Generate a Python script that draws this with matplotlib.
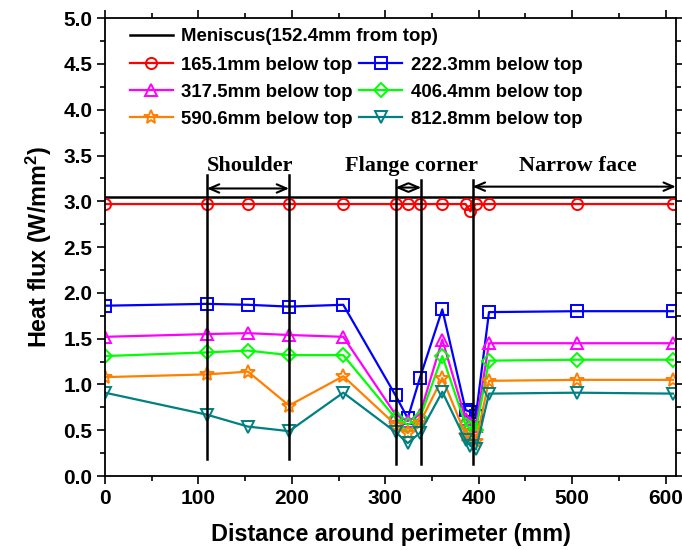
import matplotlib
matplotlib.use('Agg')
import matplotlib.pyplot as plt
from matplotlib.ticker import MultipleLocator, FormatStrFormatter

plt.rcParams['font.family'] = ['Liberation Sans', 'DejaVu Sans']
plt.rcParams['font.weight'] = 'bold'
plt.rcParams['mathtext.fontset'] = 'custom'
plt.rcParams['mathtext.rm'] = 'Liberation Sans:bold'
plt.rcParams['mathtext.default'] = 'rm'

# 数据
x = [0, 109, 153, 197, 255, 311, 324, 337, 361, 386, 391, 397, 411, 505, 608]
y_165 = [2.97, 2.97, 2.97, 2.97, 2.97, 2.97, 2.97, 2.97, 2.97, 2.97, 2.89, 2.97, 2.97, 2.97, 2.97]
y_222 = [1.86, 1.88, 1.87, 1.85, 1.87, 0.88, 0.63, 1.07, 1.82, 0.72, 0.70, 0.66, 1.79, 1.80, 1.80]
y_317 = [1.52, 1.55, 1.56, 1.54, 1.52, 0.67, 0.60, 0.67, 1.49, 0.62, 0.58, 0.55, 1.45, 1.45, 1.45]
y_406 = [1.31, 1.35, 1.37, 1.32, 1.32, 0.63, 0.56, 0.63, 1.31, 0.56, 0.52, 0.50, 1.26, 1.27, 1.27]
y_590 = [1.08, 1.11, 1.14, 0.77, 1.09, 0.56, 0.47, 0.58, 1.07, 0.45, 0.40, 0.38, 1.04, 1.05, 1.05]
y_812 = [0.91, 0.67, 0.54, 0.49, 0.91, 0.48, 0.36, 0.47, 0.92, 0.39, 0.33, 0.29, 0.90, 0.91, 0.90]

meniscus_x = [0, 611]
meniscus_y = [3.05, 3.05]

series = [
    ('165.1mm below top', y_165, '#FF0000', 'o'),
    ('222.3mm below top', y_222, '#0000FF', 's'),
    ('317.5mm below top', y_317, '#FF00FF', '^'),
    ('406.4mm below top', y_406, '#00FF00', 'D'),
    ('590.6mm below top', y_590, '#FF8000', '*'),
    ('812.8mm below top', y_812, '#008080', 'v'),
]

# 分区边界线
bounds_x = [109, 197, 311, 338.5, 393.5]
bounds_bottom = [0.19, 0.19, 0.13, 0.13, 0.13]
bounds_top = [3.29, 3.29, 3.23, 3.23, 3.23]

regions = [('Shoulder', 109, 197, 3.14, 155), ('Flange corner', 311, 338.5, 3.15, 328),
           ('Narrow face', 393.5, 611, 3.16, 506)]

fig = plt.figure(figsize=(6.82, 5.5), dpi=100)
ax = fig.add_axes((0.154, 0.1345, 0.837, 0.8325))

men, = ax.plot(meniscus_x, meniscus_y, color='black', lw=1.8, label='Meniscus(152.4mm from top)')
handles = []
for label, ys, c, m in series:
    ms = 10.5 if m == '*' else (7 if m == 'D' else 8)
    h, = ax.plot(x, ys, color=c, lw=1.6, marker=m, ms=ms, mfc='none', mec=c, mew=1.4, label=label)
    handles.append(h)

for bx, b0, b1 in zip(bounds_x, bounds_bottom, bounds_top):
    ax.plot([bx, bx], [b0, b1], color='black', lw=1.8)

for name, x0, x1, ya, xt in regions:
    ax.annotate('', xy=(x0, ya), xytext=(x1, ya),
                arrowprops=dict(arrowstyle='<->,head_length=0.7,head_width=0.3', color='black', lw=1.5,
                                shrinkA=0, shrinkB=0))
    ax.text(xt, 3.39, name, ha='center', va='center', fontsize=16, fontweight='bold',
            family=['Liberation Serif', 'DejaVu Serif'])

ax.set_xlim(0, 611)
ax.set_ylim(0, 5.0)
ax.xaxis.set_major_locator(MultipleLocator(100))
ax.xaxis.set_minor_locator(MultipleLocator(50))
ax.yaxis.set_major_locator(MultipleLocator(0.5))
ax.yaxis.set_minor_locator(MultipleLocator(0.25))
ax.yaxis.set_major_formatter(FormatStrFormatter('%.1f'))
ax.tick_params(which='both', direction='out', top=True, right=True, width=1.2)
ax.tick_params(which='major', length=6, labelsize=15, pad=3)
ax.tick_params(which='minor', length=3.5)
for s in ax.spines.values():
    s.set_linewidth(1.3)

ax.set_xlabel('Distance around perimeter (mm)', fontsize=16.8, fontweight='bold', labelpad=11)
ax.set_ylabel('Heat flux (W/mm$^2$)', fontsize=16.8, fontweight='bold', labelpad=7)

leg1 = ax.legend(handles=[men], loc='upper left', bbox_to_anchor=(0.021, 1.006), frameon=False,
                 fontsize=13.4, handlelength=2.3, handletextpad=0.45, borderaxespad=0.3)
ax.add_artist(leg1)
ax.legend(handles=[handles[0], handles[2], handles[4], handles[1], handles[3], handles[5]],
          ncol=2, loc='upper left', bbox_to_anchor=(0.021, 0.944), frameon=False, fontsize=13.4,
          handlelength=2.3, handletextpad=0.45, columnspacing=0.35, labelspacing=0.53, borderaxespad=0.3)

fig.savefig('out.png', dpi=100)
